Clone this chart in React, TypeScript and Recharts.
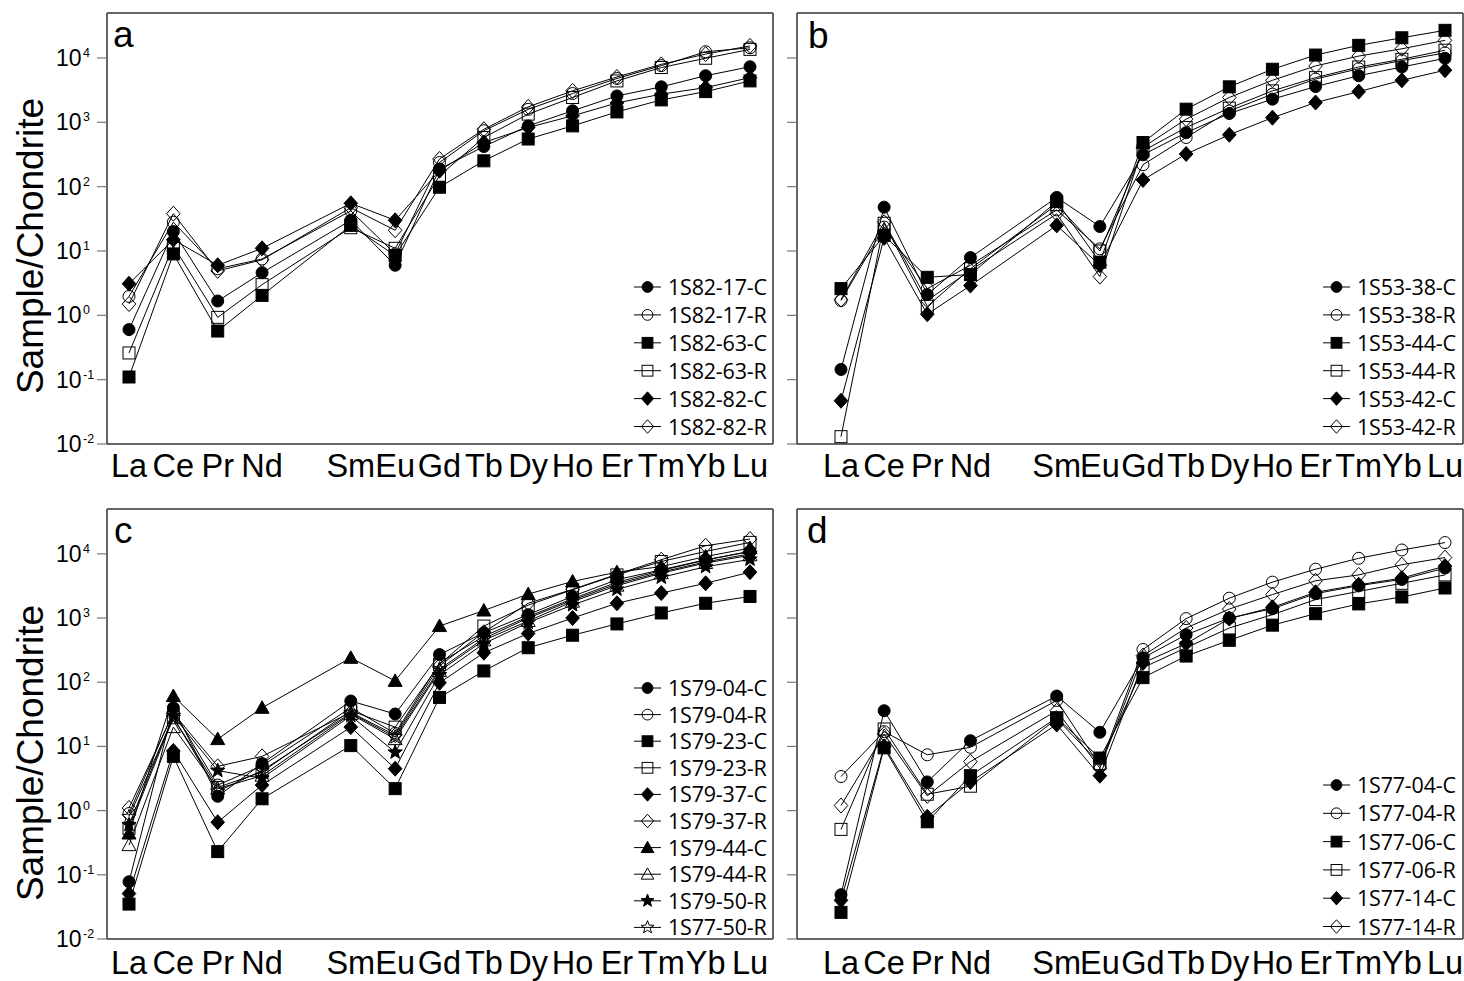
import { CartesianGrid, Legend, Line, LineChart, XAxis, YAxis } from 'recharts';

// REE order on the x axis; Pm has no analysis but keeps its slot
const elements = ['La', 'Ce', 'Pr', 'Nd', 'Pm', 'Sm', 'Eu', 'Gd', 'Tb', 'Dy', 'Ho', 'Er', 'Tm', 'Yb', 'Lu'];
const measured = ['La', 'Ce', 'Pr', 'Nd', 'Sm', 'Eu', 'Gd', 'Tb', 'Dy', 'Ho', 'Er', 'Tm', 'Yb', 'Lu'];
const yTicks = [0.01, 0.1, 1, 10, 100, 1000, 10000];

// panel a
const s82_17C = [0.6, 20, 1.67, 4.6, 30, 6.0, 188, 420, 880, 1510, 2570, 3560, 5300, 7300];
const s82_17R = [1.97, 28, 5.3, 7.5, 42, 9, 237, 740, 1590, 2800, 4800, 7600, 12500, 14400];
const s82_63C = [0.11, 9, 0.57, 2.04, 25, 8.5, 98, 252, 550, 880, 1450, 2230, 3000, 4400];
const s82_63R = [0.26, 12, 0.93, 3.0, 23, 11, 148, 580, 1340, 2430, 4400, 7100, 9900, 13600];
const s82_82C = [3.1, 15, 6.0, 11, 55, 30, 177, 485, 830, 1260, 2000, 2740, 3460, 4950];
const s82_82R = [1.5, 38, 4.9, 7.3, 47, 21, 269, 780, 1740, 3080, 5070, 7960, 11500, 15400];

// panel b
const s53_38C = [0.144, 48, 2.1, 7.9, 68, 24, 313, 690, 1370, 2290, 3590, 5300, 7240, 9880];
const s53_38R = [1.7, 23.5, 2.6, 6, 43.5, 10.8, 219, 580, 1500, 2740, 4700, 6800, 9100, 12000];
const s53_44C = [2.6, 17.4, 3.9, 4.3, 58.6, 6.7, 485, 1600, 3560, 6680, 11100, 15700, 20600, 26900];
const s53_44R = [0.013, 27, 1.38, 5.3, 52.6, 10, 360, 830, 1660, 3080, 4950, 7240, 9550, 13200];
const s53_42C = [0.047, 16, 1.04, 2.9, 25, 6, 127, 322, 640, 1180, 2030, 3000, 4500, 6450];
const s53_42R = [1.75, 28, 1.7, 5, 37.8, 4, 408, 1120, 2430, 4500, 7520, 10700, 13900, 18800];

// panel c
const s79_04C = [0.078, 40, 1.67, 5.4, 51, 32, 270, 590, 1130, 2180, 3960, 5650, 8100, 10800];
const s79_04R = [0.9, 35, 2.5, 5.0, 40, 16, 200, 520, 1050, 2000, 3600, 5500, 8000, 11000];
const s79_23C = [0.035, 7, 0.23, 1.53, 10.3, 2.2, 58, 150, 345, 540, 810, 1200, 1700, 2170];
const s79_23R = [0.53, 28, 2.3, 4.0, 36, 20, 190, 750, 1590, 2760, 4700, 7600, 10900, 15100];
const s79_37C = [0.051, 8.5, 0.66, 2.5, 20, 4.5, 98, 288, 575, 1000, 1700, 2450, 3480, 5190];
const s79_37R = [1.1, 33, 4.9, 7, 34, 15, 180, 600, 1700, 2800, 4800, 8100, 13400, 17000];
const s79_44C = [0.44, 61, 13, 40, 240, 105, 750, 1310, 2360, 3720, 5190, 6330, 9100, 12300];
const s79_44R = [0.29, 20, 2.2, 3.5, 32, 13, 150, 450, 900, 1800, 3200, 5000, 7200, 9500];
const s79_50R = [0.6, 30, 4.2, 3.2, 30, 8.1, 130, 400, 850, 1600, 2800, 4300, 6300, 8200];
const s77_50R = [0.8, 28, 2.0, 4.2, 33, 14, 160, 480, 1000, 1900, 3400, 5200, 7500, 10000];

// panel d
const s77_04C = [0.049, 36, 2.8, 12.3, 61, 16.6, 240, 550, 1000, 1400, 2400, 3200, 4000, 6000];
const s77_04R = [3.4, 17, 7.4, 9.7, 52, 5, 324, 980, 2040, 3630, 5770, 8530, 11500, 15000];
const s77_06C = [0.026, 9.5, 0.67, 3.5, 28, 6.6, 118, 256, 450, 775, 1170, 1660, 2130, 2940];
const s77_06R = [0.51, 18.7, 1.8, 2.4, 27, 5.4, 169, 345, 700, 1130, 1940, 2600, 3480, 4700];
const s77_14C = [0.04, 10, 0.8, 2.8, 22, 3.5, 200, 400, 980, 1470, 2520, 3300, 4190, 6450];
const s77_14R = [1.2, 15.6, 1.7, 5.8, 36, 4.6, 260, 700, 1380, 2320, 3810, 4700, 6770, 8760];

type Shape = 'circle' | 'square' | 'diamond' | 'triangle' | 'star';
type Series = { name: string; shape: Shape; filled: boolean; values: number[] };

const seriesA: Series[] = [
  { name: '1S82-17-C', shape: 'circle', filled: true, values: s82_17C },
  { name: '1S82-17-R', shape: 'circle', filled: false, values: s82_17R },
  { name: '1S82-63-C', shape: 'square', filled: true, values: s82_63C },
  { name: '1S82-63-R', shape: 'square', filled: false, values: s82_63R },
  { name: '1S82-82-C', shape: 'diamond', filled: true, values: s82_82C },
  { name: '1S82-82-R', shape: 'diamond', filled: false, values: s82_82R },
];
const seriesB: Series[] = [
  { name: '1S53-38-C', shape: 'circle', filled: true, values: s53_38C },
  { name: '1S53-38-R', shape: 'circle', filled: false, values: s53_38R },
  { name: '1S53-44-C', shape: 'square', filled: true, values: s53_44C },
  { name: '1S53-44-R', shape: 'square', filled: false, values: s53_44R },
  { name: '1S53-42-C', shape: 'diamond', filled: true, values: s53_42C },
  { name: '1S53-42-R', shape: 'diamond', filled: false, values: s53_42R },
];
const seriesC: Series[] = [
  { name: '1S79-04-C', shape: 'circle', filled: true, values: s79_04C },
  { name: '1S79-04-R', shape: 'circle', filled: false, values: s79_04R },
  { name: '1S79-23-C', shape: 'square', filled: true, values: s79_23C },
  { name: '1S79-23-R', shape: 'square', filled: false, values: s79_23R },
  { name: '1S79-37-C', shape: 'diamond', filled: true, values: s79_37C },
  { name: '1S79-37-R', shape: 'diamond', filled: false, values: s79_37R },
  { name: '1S79-44-C', shape: 'triangle', filled: true, values: s79_44C },
  { name: '1S79-44-R', shape: 'triangle', filled: false, values: s79_44R },
  { name: '1S79-50-R', shape: 'star', filled: true, values: s79_50R },
  { name: '1S77-50-R', shape: 'star', filled: false, values: s77_50R },
];
const seriesD: Series[] = [
  { name: '1S77-04-C', shape: 'circle', filled: true, values: s77_04C },
  { name: '1S77-04-R', shape: 'circle', filled: false, values: s77_04R },
  { name: '1S77-06-C', shape: 'square', filled: true, values: s77_06C },
  { name: '1S77-06-R', shape: 'square', filled: false, values: s77_06R },
  { name: '1S77-14-C', shape: 'diamond', filled: true, values: s77_14C },
  { name: '1S77-14-R', shape: 'diamond', filled: false, values: s77_14R },
];

const NARROW = "'Liberation Sans Narrow', 'Arial Narrow', 'Liberation Sans', Arial, sans-serif";
const SANS = "'Liberation Sans', Arial, sans-serif";
const LEGEND_FONT = "'Open Sans', 'Noto Sans', sans-serif";

function buildRows(series: Series[]) {
  return elements.map((el) => {
    const row: Record<string, string | number | null> = { el };
    const i = measured.indexOf(el);
    series.forEach((s) => {
      row[s.name] = i < 0 ? null : s.values[i];
    });
    return row;
  });
}

function Marker({ cx, cy, shape, filled, k = 1 }: { cx: number; cy: number; shape: Shape; filled: boolean; k?: number }) {
  const st = { fill: filled ? '#000' : 'none', stroke: '#000', strokeWidth: 1 };
  if (shape === 'circle') return <circle cx={cx} cy={cy} r={6 * k} {...st} />;
  if (shape === 'square') return <rect x={cx - 6 * k} y={cy - 6 * k} width={12 * k} height={12 * k} {...st} />;
  if (shape === 'diamond') {
    const w = 6.8 * k, h = 7.5 * k;
    return <path d={`M${cx},${cy - h}L${cx + w},${cy}L${cx},${cy + h}L${cx - w},${cy}Z`} {...st} />;
  }
  if (shape === 'triangle') {
    const w = 7 * k;
    return <path d={`M${cx},${cy - 7 * k}L${cx + w},${cy + 5.5 * k}L${cx - w},${cy + 5.5 * k}Z`} {...st} />;
  }
  const pts: string[] = [];
  for (let i = 0; i < 10; i++) {
    const r = (i % 2 === 0 ? 7.5 : 3.2) * k;
    const a = -Math.PI / 2 + (i * Math.PI) / 5;
    pts.push(`${cx + r * Math.cos(a)},${cy + r * Math.sin(a)}`);
  }
  return <polygon points={pts.join(' ')} {...st} />;
}

const makeDot = (shape: Shape, filled: boolean) => (p: any) => {
  if (p.cy == null || !Number.isFinite(p.cy) || p.value == null) return <g key={`d-${p.index}`} />;
  return <Marker key={`d-${p.index}`} cx={p.cx} cy={p.cy} shape={shape} filled={filled} />;
};

function XTick({ x, y, payload, dy }: any) {
  if (payload.value === 'Pm') return <g />;
  return (
    <text x={x} y={y + dy} textAnchor="middle" fontFamily={NARROW} fontSize={32.5} fill="#000">
      {payload.value}
    </text>
  );
}

function YTick({ y, payload }: any) {
  const e = Math.round(Math.log10(payload.value));
  return (
    <g>
      <text x={81.5} y={y + 8} textAnchor="end" fontFamily={NARROW} fontSize={23} fill="#000">10</text>
      <text x={83} y={y - 1} fontFamily={NARROW} fontSize={12.5} fill="#000">{e}</text>
    </g>
  );
}

function NoTick() {
  return <g />;
}

function LegendBox({ series, gap }: { series: Series[]; gap: number }) {
  return (
    <svg width={150} height={series.length * gap + 20} style={{ display: 'block', overflow: 'visible' }}>
      {series.map((s, i) => {
        const cy = 14 + i * gap;
        return (
          <g key={s.name}>
            <line x1={0} x2={27} y1={cy} y2={cy} stroke="#000" strokeWidth={1} />
            <Marker cx={13.5} cy={cy} shape={s.shape} filled={s.filled} k={0.9} />
            <text x={34} y={cy + 8} fontFamily={LEGEND_FONT} fontSize={21.5} letterSpacing={-0.2} fill="#000">
              {s.name}
            </text>
          </g>
        );
      })}
    </svg>
  );
}

type PanelCfg = {
  left: number;
  top: number;
  width: number;
  height: number;
  margin: { top: number; right: number; bottom: number; left: number };
  yWidth: number;
  pad: { left: number; right: number };
  xDy: number;
  showY: boolean;
  yLabelY: number;
  series: Series[];
  legend: { left: number; top: number; gap: number };
};

function Panel({ cfg }: { cfg: PanelCfg }) {
  const data = buildRows(cfg.series);
  const yLabel = () => (
    <text
      x={43}
      y={cfg.yLabelY}
      transform={`rotate(-90, 43, ${cfg.yLabelY})`}
      textAnchor="middle"
      fontFamily={SANS}
      fontSize={37}
      fill="#000"
    >
      Sample/Chondrite
    </text>
  );
  return (
    <div style={{ position: 'absolute', left: cfg.left, top: cfg.top }}>
      <LineChart width={cfg.width} height={cfg.height} data={data} margin={cfg.margin}>
        <CartesianGrid
          stroke="#333"
          strokeWidth={1.5}
          horizontalCoordinatesGenerator={({ offset }: any) => [offset.top, offset.top + offset.height]}
          verticalCoordinatesGenerator={({ offset }: any) => [offset.left, offset.left + offset.width]}
        />
        <XAxis
          dataKey="el"
          interval={0}
          axisLine={false}
          tickLine={false}
          tickSize={0}
          tickMargin={0}
          height={36}
          padding={cfg.pad}
          tick={<XTick dy={cfg.xDy} />}
        />
        <YAxis
          scale="log"
          type="number"
          domain={[0.01, 50000]}
          ticks={yTicks}
          allowDataOverflow
          interval={0}
          width={cfg.yWidth}
          axisLine={false}
          tickSize={10}
          tickLine={{ stroke: '#777', strokeWidth: 1.2 }}
          tick={cfg.showY ? <YTick /> : <NoTick />}
          label={cfg.showY ? yLabel : undefined}
        />
        {cfg.series.map((s) => (
          <Line
            key={s.name}
            dataKey={s.name}
            stroke="#000"
            strokeWidth={1}
            connectNulls
            dot={makeDot(s.shape, s.filled)}
            activeDot={false}
            isAnimationActive={false}
          />
        ))}
        <Legend
          layout="horizontal"
          verticalAlign="middle"
          align="center"
          content={() => <LegendBox series={cfg.series} gap={cfg.legend.gap} />}
          wrapperStyle={{ left: cfg.legend.left, top: cfg.legend.top, width: 150, height: 'auto' }}
        />
      </LineChart>
    </div>
  );
}

const panels: PanelCfg[] = [
  {
    left: 0, top: 0, width: 780, height: 492,
    margin: { top: 13, right: 7, bottom: 12, left: 0 }, yWidth: 107,
    pad: { left: 22, right: 23 }, xDy: 33, showY: true, yLabelY: 246,
    series: seriesA, legend: { left: 634, top: 273, gap: 27.9 },
  },
  {
    left: 780, top: 0, width: 684, height: 492,
    margin: { top: 13, right: 1, bottom: 12, left: 1 }, yWidth: 16,
    pad: { left: 44, right: 18 }, xDy: 33, showY: false, yLabelY: 246,
    series: seriesB, legend: { left: 543, top: 273, gap: 27.9 },
  },
  {
    left: 0, top: 480, width: 780, height: 501,
    margin: { top: 29, right: 7, bottom: 6, left: 0 }, yWidth: 107,
    pad: { left: 22, right: 23 }, xDy: 35, showY: true, yLabelY: 273,
    series: seriesC, legend: { left: 634, top: 194, gap: 26.6 },
  },
  {
    left: 780, top: 480, width: 684, height: 501,
    margin: { top: 29, right: 1, bottom: 6, left: 1 }, yWidth: 16,
    pad: { left: 44, right: 18 }, xDy: 35, showY: false, yLabelY: 273,
    series: seriesD, legend: { left: 543, top: 291, gap: 28.3 },
  },
];

const letters = [
  { t: 'a', x: 113, y: 47 },
  { t: 'b', x: 808, y: 48 },
  { t: 'c', x: 114, y: 543 },
  { t: 'd', x: 807, y: 543 },
];

export default function App() {
  return (
    <div style={{ position: 'absolute', left: 0, top: 0, width: 1464, height: 981, background: '#fff', overflow: 'hidden' }}>
      {panels.map((p, i) => (
        <Panel key={i} cfg={p} />
      ))}
      <svg width={1464} height={981} style={{ position: 'absolute', left: 0, top: 0, pointerEvents: 'none' }}>
        {letters.map((l) => (
          <text key={l.t} x={l.x} y={l.y} fontFamily={SANS} fontSize={37} fill="#000">
            {l.t}
          </text>
        ))}
      </svg>
    </div>
  );
}
